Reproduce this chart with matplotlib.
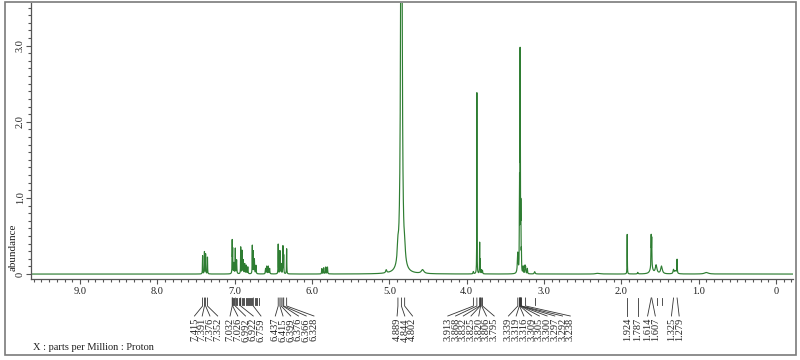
import matplotlib
matplotlib.use('Agg')
import matplotlib.pyplot as plt
import matplotlib.transforms as mtransforms
from matplotlib.patches import Rectangle
from matplotlib.ticker import MultipleLocator, FuncFormatter
import numpy as np

plt.rcParams['font.family'] = ['Liberation Serif', 'DejaVu Serif']

# peak table: position (ppm), height (abundance), half width (ppm)
peak_ppm = [7.415, 7.391, 7.376, 7.352,
            7.032, 7.026, 7.010, 6.992, 6.975, 6.922, 6.905, 6.890, 6.870, 6.850, 6.830,
            6.772, 6.759, 6.745, 6.725,
            6.600, 6.585, 6.565, 6.548,
            6.437, 6.415, 6.399, 6.376, 6.366, 6.328,
            5.872, 5.848, 5.822, 5.800,
            5.040, 4.889, 4.844, 4.802, 4.570,
            3.913, 3.868, 3.832, 3.825, 3.806, 3.795,
            3.339, 3.319, 3.316, 3.309, 3.305, 3.300, 3.297, 3.292, 3.270, 3.245, 3.238, 3.215, 3.120,
            2.300, 1.924, 1.787, 1.614, 1.607, 1.610, 1.550, 1.480, 1.325, 1.300, 1.279, 0.900]
peak_height = [0.24, 0.29, 0.26, 0.22,
               0.42, 0.30, 0.14, 0.33, 0.18, 0.35, 0.30, 0.18, 0.13, 0.11, 0.09,
               0.37, 0.29, 0.19, 0.11,
               0.07, 0.10, 0.10, 0.07,
               0.39, 0.30, 0.13, 0.36, 0.24, 0.33,
               0.07, 0.08, 0.09, 0.09,
               0.04, 0.20, 10.0, 0.15, 0.05,
               0.03, 2.38, 0.40, 0.18, 0.05, 0.04,
               0.27, 0.55, 1.05, 2.72, 1.30, 0.70, 0.40, 0.25, 0.09, 0.10, 0.08, 0.07, 0.03,
               0.01, 0.52, 0.02, 0.40, 0.36, 0.08, 0.11, 0.10, 0.05, 0.04, 0.18, 0.02]
peak_hwhm = [0.002, 0.002, 0.002, 0.002,
             0.002, 0.002, 0.003, 0.002, 0.003, 0.002, 0.002, 0.003, 0.003, 0.003, 0.003,
             0.002, 0.002, 0.003, 0.003,
             0.003, 0.003, 0.003, 0.003,
             0.002, 0.002, 0.003, 0.002, 0.002, 0.002,
             0.003, 0.003, 0.003, 0.003,
             0.008, 0.010, 0.008, 0.010, 0.020,
             0.004, 0.0015, 0.0015, 0.002, 0.003, 0.003,
             0.006, 0.0015, 0.0015, 0.0015, 0.0015, 0.0015, 0.0015, 0.002, 0.003, 0.003, 0.003, 0.003, 0.006,
             0.030, 0.0018, 0.005, 0.0025, 0.0025, 0.020, 0.012, 0.012, 0.006, 0.015, 0.0025, 0.030]

# annotated peak groups and where their label fans are centred (ppm)
label_groups = [[7.415, 7.391, 7.376, 7.352],
                [7.032, 7.026, 6.992, 6.922, 6.759],
                [6.437, 6.415, 6.399, 6.376, 6.366, 6.328],
                [4.889, 4.844, 4.802],
                [3.913, 3.868, 3.832, 3.825, 3.820, 3.806, 3.795],
                [3.339, 3.319, 3.316, 3.309, 3.305, 3.300, 3.297, 3.292, 3.238],
                [1.924], [1.787], [1.614, 1.607], [1.325, 1.279]]
label_centers = [7.37, 6.86, 6.225, 4.80, 3.944, 3.06, 1.924, 1.787, 1.6105, 1.302]
unlabeled_marks = [7.018, 7.005, 6.980, 6.965, 6.948, 6.935, 6.905, 6.890, 6.875, 6.860,
                   6.845, 6.830, 6.812, 6.798, 6.785, 6.772, 6.740, 6.722, 6.705, 6.690,
                   3.120, 1.544, 1.480]

x_ticks = [9, 8, 7, 6, 5, 4, 3, 2, 1, 0]
y_ticks = [0, 1, 2, 3]

# build the spectrum as a sum of lorentzians
x = np.linspace(-0.25, 9.7, 60000)
x = np.unique(np.concatenate([x, peak_ppm]))
y = np.zeros_like(x)
for p, h, w in zip(peak_ppm, peak_height, peak_hwhm):
    y += h * w**2 / ((x - p)**2 + w**2)

W, H = 800, 360
fig = plt.figure(figsize=(8, 3.6), dpi=100)
ax = fig.add_axes([31 / W, 81 / H, 762 / W, 276 / H])

ax.plot(x, y, color='#2e7d32', lw=0.85)
ax.set_xlim(9.634, -0.22)
ax.set_ylim(-0.065, 3.56)

for s in ['top', 'right']:
    ax.spines[s].set_visible(False)
for s in ['left', 'bottom']:
    ax.spines[s].set_color('#555555')
    ax.spines[s].set_linewidth(0.9)

fmt = FuncFormatter(lambda v, pos: '0' if abs(v) < 1e-9 else f'{v:.1f}')
ax.set_xticks(x_ticks)
ax.xaxis.set_minor_locator(MultipleLocator(0.1))
ax.xaxis.set_major_formatter(fmt)
ax.set_yticks(y_ticks)
ax.yaxis.set_minor_locator(MultipleLocator(0.1))
ax.yaxis.set_major_formatter(fmt)
ax.tick_params(which='both', direction='out', color='#555555', width=0.8, labelsize=7.5,
               labelcolor='#222222')
ax.tick_params(which='major', length=3.5, pad=2)
ax.tick_params(axis='y', which='major', pad=1)
ax.tick_params(which='minor', length=2.5)
for lab in ax.get_yticklabels():
    lab.set_rotation(90)
    lab.set_va('center')

# peak markers under the axis
trans = mtransforms.blended_transform_factory(ax.transData, fig.transFigure)
fy = lambda px: 1 - px / H
spacing = 0.1
for grp, c in zip(label_groups, label_centers):
    n = len(grp)
    # small groups fan out directly from the top, wide groups after a short stem
    kink = 298 if n <= 2 else 306
    for i, p in enumerate(grp):
        lx = c + ((n - 1) / 2 - i) * spacing
        ax.plot([p, p, lx], [fy(298), fy(kink), fy(316)], color='#333333', lw=0.6,
                transform=trans, clip_on=False)
        ax.text(lx, fy(318), f'{p:.3f}', rotation=90, ha='center', va='top',
                fontsize=7.5, color='#222222', transform=trans)
for p in unlabeled_marks:
    ax.plot([p, p], [fy(298), fy(305)], color='#333333', lw=0.6,
            transform=trans, clip_on=False)

fig.text(13 / W, fy(247), 'abundance', rotation=90, ha='center', va='center',
         fontsize=8, color='#222222')
fig.text(33 / W, fy(348), 'X : parts per Million : Proton', ha='left', va='center',
         fontsize=7.5, color='#222222')

fig.patches.append(Rectangle((5 / W, 5 / H), 791 / W, 353 / H, transform=fig.transFigure,
                             fill=False, edgecolor='#7a7a7a', lw=1.2))

fig.savefig('out.png', dpi=100)
